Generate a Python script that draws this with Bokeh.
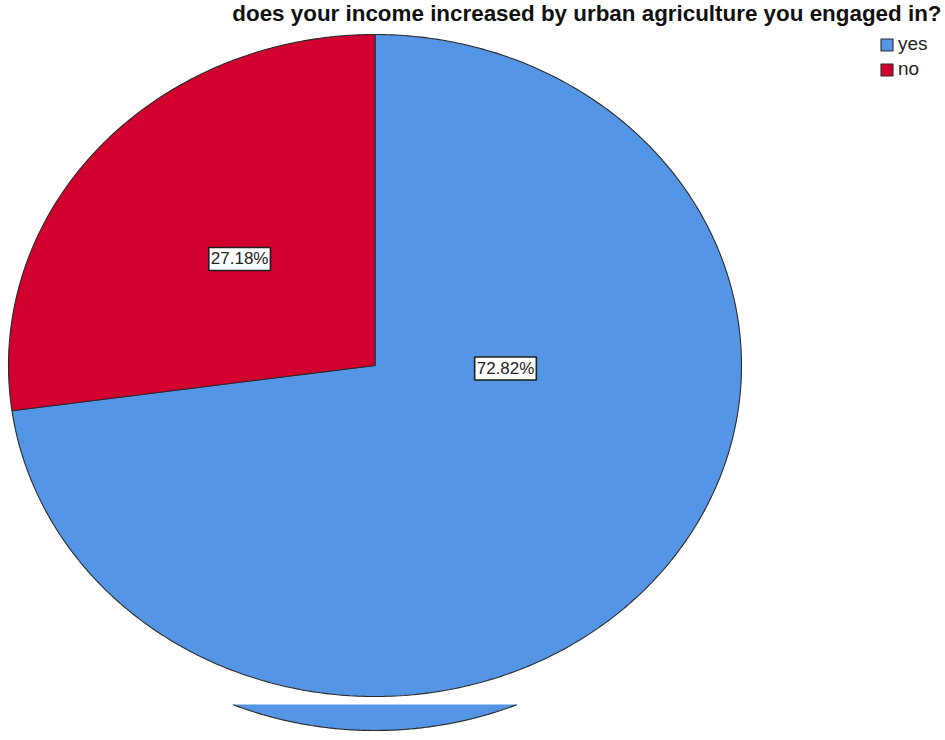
import numpy as np
from bokeh.plotting import figure
from bokeh.models import Range1d, Legend, LegendItem, ColumnDataSource
from bokeh.embed import file_html
from bokeh.resources import INLINE
from bokeh.core.properties import value

# ---- data ----
categories = ["yes", "no"]
percents = [72.82, 27.18]
colors = ["#5495e5", "#d2002e"]
title_text = "does your income increased by urban agriculture you engaged in?"

# ---- layout constants (pixels) ----
W, H = 945, 740
RX, RY = 366.5, 331.0      # ellipse radii in px
CX, CY = 374.5, 365.0      # pie centre, px from figure left / top

def px_x(px):
    return (px - CX) / RX

def px_y(py):
    return (CY - py) / RY

p = figure(width=W, height=H, output_backend="svg", toolbar_location=None,
           x_range=Range1d(px_x(0), px_x(W)), y_range=Range1d(px_y(H), px_y(0)),
           x_axis_type=None, y_axis_type=None, min_border=0)
p.grid.visible = False
p.outline_line_color = None
p.background_fill_color = "white"
p.border_fill_color = "white"

# ---- decorative bottom sliver (artifact of the source image) ----
shift = 34 / RY
y_cut = px_y(704)
t = np.linspace(np.pi, 2 * np.pi, 721)
sx = np.cos(t)
sy = np.sin(t) - shift
keep = sy <= y_cut
sx, sy = sx[keep], sy[keep]
p.patch(np.r_[sx[0], sx, sx[-1]], np.r_[y_cut, sy, y_cut], fill_color=colors[0], line_color=None)
p.line(sx, sy, line_color="#2a2a2a", line_width=1.2)

# ---- pie slices (clockwise from 12 o'clock) ----
fracs = np.array(percents) / sum(percents)
ends = np.pi / 2 - 2 * np.pi * np.cumsum(fracs)
starts = np.r_[np.pi / 2, ends[:-1]]
renderers = []
mids = []
for i, cat in enumerate(categories):
    tt = np.linspace(starts[i], ends[i], 400)
    xs = np.r_[0, np.cos(tt), 0]
    ys = np.r_[0, np.sin(tt), 0]
    r = p.patch(xs, ys, fill_color=colors[i], line_color="#2a2a2a", line_width=1.1)
    renderers.append(r)
    mids.append((starts[i] + ends[i]) / 2)

# ---- percentage labels ----
label_pos = {"yes": (px_x(505), px_y(368)),
             "no": (0.49 * np.cos(mids[1]), 0.49 * np.sin(mids[1]))}
src = ColumnDataSource(dict(
    x=[label_pos[c][0] for c in categories],
    y=[label_pos[c][1] for c in categories],
    t=["%.2f%%" % v for v in percents]))
p.text("x", "y", text="t", source=src, text_align="center", text_baseline="middle",
       text_font=value("Liberation Sans"), text_font_size="17px", text_color="#222222",
       background_fill_color="white", border_line_color="#1e1e1e", border_line_width=1.6,
       padding=2)

# ---- title ----
p.text(x=[px_x(941)], y=[px_y(13)], text=[title_text], text_align="right",
       text_baseline="middle", text_font=value("Liberation Sans"), text_font_style="bold",
       text_font_size="22.4px", text_color="#111111")

# ---- legend ----
legend = Legend(items=[LegendItem(label=c, renderers=[r]) for c, r in zip(categories, renderers)],
                location=(879, 660), glyph_width=15, glyph_height=15,
                label_text_font="Liberation Sans", label_text_font_size="19px",
                label_text_color="#222222", label_standoff=4, spacing=3, padding=0, margin=0,
                border_line_color=None, background_fill_alpha=0,
                label_height=15)
p.add_layout(legend)

open("out.html", "w").write(file_html(p, INLINE))
